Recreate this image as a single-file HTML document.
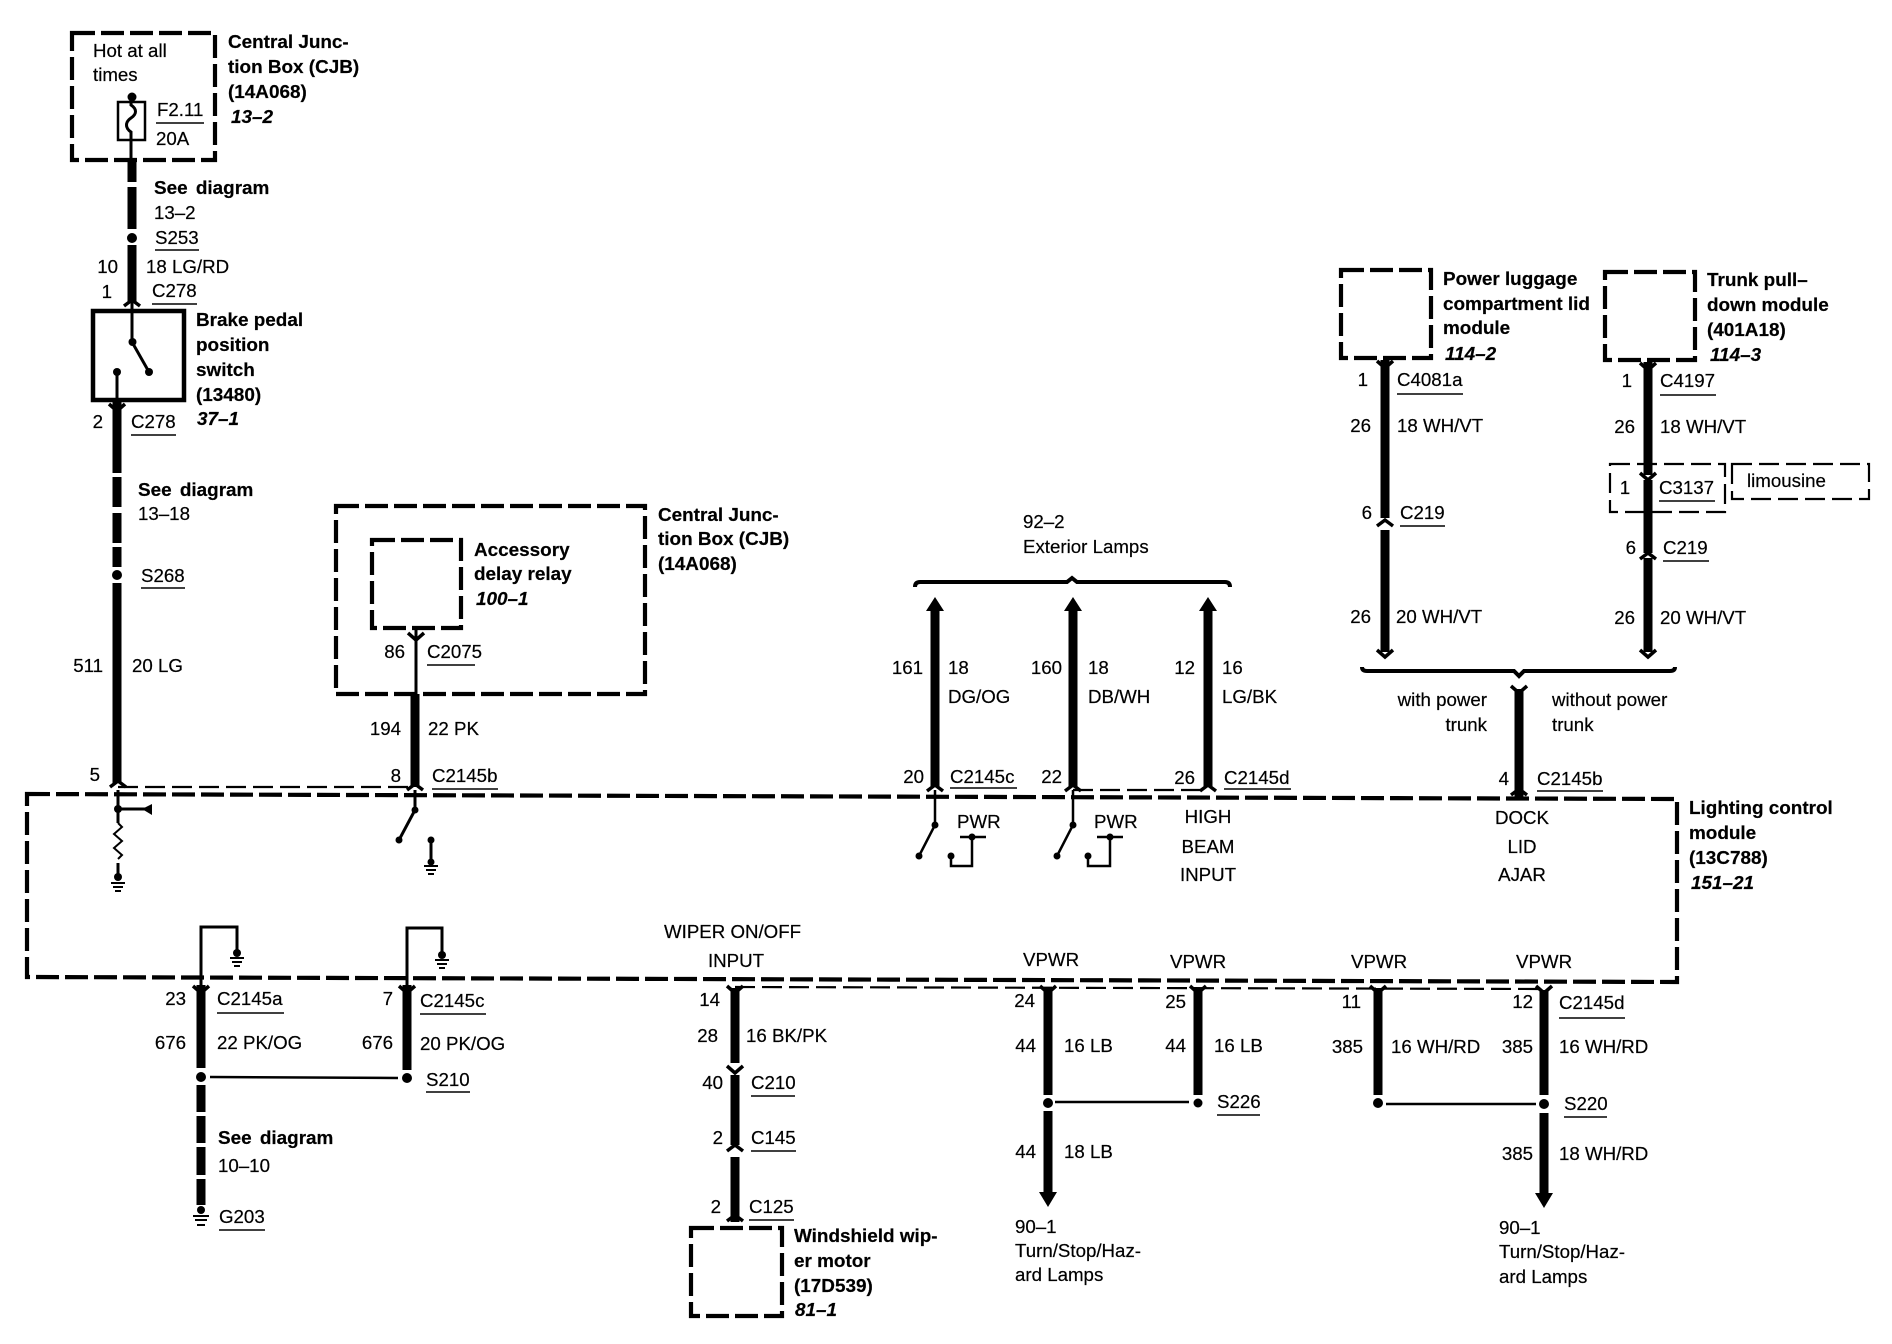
<!DOCTYPE html>
<html><head><meta charset="utf-8"><style>
html,body{margin:0;padding:0;background:#fff}
svg{display:block}
text{font-family:"Liberation Sans",sans-serif;font-size:18.7px;fill:#000;stroke:#000;stroke-width:.2px}
.b{font-weight:bold;font-size:18.9px}.bi{font-weight:bold;font-style:italic;font-size:18.9px}.e{text-anchor:end}.m{text-anchor:middle}.s{word-spacing:3px}
</style></head><body>
<svg xmlns="http://www.w3.org/2000/svg" width="1892" height="1344" viewBox="0 0 1892 1344">
<rect width="1892" height="1344" fill="#fff"/>
<!-- dashed boxes -->
<g fill="none" stroke="#000" stroke-width="4.2" stroke-dasharray="23 6">
<path d="M27 794L1677 799L1677 982L27 977Z"/>
<rect x="72" y="33" width="143" height="127"/>
<rect x="336" y="506" width="309" height="188"/>
<rect x="372" y="540" width="89" height="88"/>
<rect x="1341" y="270" width="90" height="88"/>
<rect x="1605" y="272" width="90" height="88"/>
<rect x="691" y="1228" width="91" height="88"/>
</g>
<g fill="none" stroke="#000" stroke-width="2.2" stroke-dasharray="20 7">
<rect x="1610" y="464" width="115" height="48"/>
<rect x="1732" y="464" width="137" height="35"/>
<path d="M118 787H415"/><path d="M1073 790H1208"/><path d="M735 987L1545 989"/>
</g>
<!-- thick wires -->
<path fill="none" stroke="#000" stroke-width="9" d="M132 160V182M132 187V229M132 245V302M117 400V443M117 443V473M117 477V507M117 513V543M117 547V567M117 583V783M415 694V787M935 606V787M1073 606V787M1208 606V787M1385 360V518M1385 530V652M1648 362V475M1648 480V553M1648 558V652M1519 689V797M201 985V1068M201 1085V1112M201 1116V1143M201 1147V1175M201 1179V1205M407 985V1070M735 988V1063M735 1075V1145M735 1157V1222M1048 988V1095M1048 1111V1194M1198 988V1095M1378 988V1095M1544 990V1095M1544 1113V1195"/>
<!-- chevrons -->
<path fill="none" stroke="#000" stroke-width="3.5" d="M124 306l8-6 8 6M110 787l8-6 8 6M407 790l8-6 8 6M1377 526l8-6 8 6M1640 559l8-6 8 6M727 1151l8-6 8 6M727 1221l8-6 8 6M927 791l8-6 8 6M1065 791l8-6 8 6M1200 791l8-6 8 6M1511 795l8-6 8 6M109 404l8 7 8-7M408 633l8 7 8-7M193 986l8 7 8-7M399 986l8 7 8-7M1377 361l8 7 8-7M1640 363l8 7 8-7M1640 473l8 7 8-7M1377 650l8 7 8-7M1640 650l8 7 8-7M1511 686l8 7 8-7M727 986l8 7 8-7M727 1066l8 7 8-7M1040 986l8 7 8-7M1190 986l8 7 8-7M1370 986l8 7 8-7M1536 986l8 7 8-7"/>
<!-- arrowheads -->
<path d="M935 597l9 14h-18zM1073 597l9 14h-18zM1208 597l9 14h-18zM1048 1207l-9-15h18zM1544 1208l-9-15h18z"/>
<!-- dots -->
<g>
<circle cx="132" cy="97" r="4.5"/><circle cx="132" cy="238" r="5"/><circle cx="132.5" cy="342" r="4"/><circle cx="149" cy="372" r="4"/><circle cx="117" cy="372" r="4"/><circle cx="117" cy="575" r="5"/>
<circle cx="118" cy="809" r="4"/><circle cx="415" cy="810" r="3.5"/><circle cx="399" cy="840" r="3.5"/><circle cx="431" cy="840" r="3.5"/><circle cx="431" cy="862" r="3.5"/><circle cx="118" cy="877" r="4"/>
<circle cx="237" cy="953" r="4"/><circle cx="442" cy="955" r="4"/>
<circle cx="201" cy="1077" r="5"/><circle cx="407" cy="1078" r="5"/><circle cx="201" cy="1210" r="4"/>
<circle cx="935" cy="825" r="3.5"/><circle cx="919" cy="856" r="3.5"/><circle cx="1073" cy="825" r="3.5"/><circle cx="1057" cy="856" r="3.5"/>
<circle cx="972" cy="837" r="3.5"/><circle cx="951" cy="856" r="3.5"/><circle cx="1110" cy="837" r="3.5"/><circle cx="1088" cy="856" r="3.5"/>
<circle cx="1048" cy="1103" r="5"/><circle cx="1198" cy="1103" r="4.5"/><circle cx="1378" cy="1103" r="5"/><circle cx="1544" cy="1104" r="5"/>
</g>
<!-- thin lines -->
<g fill="none" stroke="#000" stroke-width="3">
<rect x="118" y="102" width="27" height="38" stroke-width="2.5"/>
<path d="M131 97V105C137 109 137 114 131 118C125 122 125 128 131 132V160"/>
<rect x="93" y="311" width="91" height="89" stroke-width="4.5"/>
<path d="M132 300V342L149 372M117 372V402"/>
<path d="M118 790V823M118 809H145M118 863V877M415 790V810L399 840M431 840V866"/>
<path d="M118 823l4 4-8 7 8 7-8 7 8 7-4 4" stroke-width="2"/>
<path d="M201 985V927H237V955M407 985V928H442V957"/>
<path d="M935 790V825L919 856M1073 790V825L1057 856M960 837H986M972 837V866H951V856M1097 837H1123M1110 837V866H1088V856" stroke-width="2.5"/>
<path d="M416 628V694"/>
<path d="M210 1077L398 1078M1055 1102H1189M1386 1104H1536" stroke-width="2.5"/>
<path d="M915 587q0-5 5-5H1067L1072 578L1077 582H1225q5 0 5 5M1362 667q0 4 5 4H1514L1519 676L1524 671H1670q5 0 5-4" stroke-width="4"/>
<!-- grounds -->
<path stroke-width="2" d="M111 883h14M113 887h10M115 891h6M424 866h14M426 870h10M428 874h6M230 958h14M232 962h10M234 966h6M435 960h14M437 964h10M439 968h6M193 1216h16M195 1220h12M197 1225h8"/>
<!-- underlines -->
<path stroke-width="1.5" d="M156 123H204M155 250H199M152 304H197M131 435H176M141 588H185M432 789H498M427 665H475M217 1013H284M420 1014H486M426 1092H470M219 1230H265M950 788H1017M1224 789H1291M1397 394H1463M1400 526H1445M1660 395H1716M1659 501H1715M1663 561H1709M1537 791H1603M751 1096H795M751 1151H796M749 1220H794M1217 1115H1260M1559 1018H1625M1564 1117H1607"/>
</g>
<path d="M142 809l10-5v11z"/>
<!-- top left -->
<text x="93" y="57">Hot at all</text><text x="93" y="81">times</text>
<text x="157" y="116">F2.11</text><text x="156" y="145">20A</text>
<text class="b" x="228" y="48">Central Junc-</text><text class="b" x="228" y="73">tion Box (CJB)</text><text class="b" x="228" y="98">(14A068)</text><text class="bi" x="231" y="123">13–2</text>
<text class="b s" x="154" y="194">See diagram</text><text x="154" y="219">13–2</text><text x="155" y="244">S253</text>
<text class="e" x="118" y="273">10</text><text x="146" y="273">18 LG/RD</text>
<text class="e" x="112" y="298">1</text><text x="152" y="297">C278</text>
<text class="b" x="196" y="326">Brake pedal</text><text class="b" x="196" y="351">position</text><text class="b" x="196" y="376">switch</text><text class="b" x="196" y="401">(13480)</text><text class="bi" x="197" y="425">37–1</text>
<text class="e" x="103" y="428">2</text><text x="131" y="428">C278</text>
<text class="b s" x="138" y="496">See diagram</text><text x="138" y="520">13–18</text><text x="141" y="582">S268</text>
<text class="e" x="103" y="672">511</text><text x="132" y="672">20 LG</text>
<text class="e" x="100" y="781">5</text>
<!-- CJB 2 -->
<text class="b" x="658" y="521">Central Junc-</text><text class="b" x="658" y="545">tion Box (CJB)</text><text class="b" x="658" y="570">(14A068)</text>
<text class="b" x="474" y="556">Accessory</text><text class="b" x="474" y="580">delay relay</text><text class="bi" x="476" y="605">100–1</text>
<text class="e" x="405" y="658">86</text><text x="427" y="658">C2075</text>
<text class="e" x="401" y="735">194</text><text x="428" y="735">22 PK</text>
<text class="e" x="401" y="782">8</text><text x="432" y="782">C2145b</text>
<!-- exterior -->
<text x="1023" y="528">92–2</text><text x="1023" y="553">Exterior Lamps</text>
<text class="e" x="923" y="674">161</text><text x="948" y="674">18</text><text x="948" y="703">DG/OG</text>
<text class="e" x="1062" y="674">160</text><text x="1088" y="674">18</text><text x="1088" y="703">DB/WH</text>
<text class="e" x="1195" y="674">12</text><text x="1222" y="674">16</text><text x="1222" y="703">LG/BK</text>
<text class="e" x="924" y="783">20</text><text x="950" y="783">C2145c</text>
<text class="e" x="1062" y="783">22</text><text class="e" x="1195" y="784">26</text><text x="1224" y="784">C2145d</text>
<text x="957" y="828">PWR</text><text x="1094" y="828">PWR</text>
<text class="m" x="1208" y="823">HIGH</text><text class="m" x="1208" y="853">BEAM</text><text class="m" x="1208" y="881">INPUT</text>
<!-- trunk -->
<text class="b" x="1443" y="285">Power luggage</text><text class="b" x="1443" y="310">compartment lid</text><text class="b" x="1443" y="334">module</text><text class="bi" x="1445" y="360">114–2</text>
<text class="b" x="1707" y="286">Trunk pull–</text><text class="b" x="1707" y="311">down module</text><text class="b" x="1707" y="336">(401A18)</text><text class="bi" x="1710" y="361">114–3</text>
<text class="e" x="1368" y="386">1</text><text x="1397" y="386">C4081a</text>
<text class="e" x="1371" y="432">26</text><text x="1397" y="432">18 WH/VT</text>
<text class="e" x="1372" y="519">6</text><text x="1400" y="519">C219</text>
<text class="e" x="1371" y="623">26</text><text x="1396" y="623">20 WH/VT</text>
<text class="e" x="1632" y="387">1</text><text x="1660" y="387">C4197</text>
<text class="e" x="1635" y="433">26</text><text x="1660" y="433">18 WH/VT</text>
<text class="m" x="1625" y="494">1</text><text x="1659" y="494">C3137</text><text x="1747" y="487">limousine</text>
<text class="e" x="1636" y="554">6</text><text x="1663" y="554">C219</text>
<text class="e" x="1635" y="624">26</text><text x="1660" y="624">20 WH/VT</text>
<text class="e" x="1487" y="706">with power</text><text class="e" x="1487" y="731">trunk</text>
<text x="1552" y="706">without power</text><text x="1552" y="731">trunk</text>
<text class="e" x="1509" y="785">4</text><text x="1537" y="785">C2145b</text>
<!-- module -->
<text class="m" x="1522" y="824">DOCK</text><text class="m" x="1522" y="853">LID</text><text class="m" x="1522" y="881">AJAR</text>
<text class="b" x="1689" y="814">Lighting control</text><text class="b" x="1689" y="839">module</text><text class="b" x="1689" y="864">(13C788)</text><text class="bi" x="1691" y="889">151–21</text>
<text x="664" y="938">WIPER ON/OFF</text><text class="m" x="736" y="967">INPUT</text>
<text x="1023" y="966">VPWR</text><text x="1170" y="968">VPWR</text><text x="1351" y="968">VPWR</text><text x="1516" y="968">VPWR</text>
<!-- bottom left -->
<text class="e" x="186" y="1005">23</text><text x="217" y="1005">C2145a</text>
<text class="e" x="393" y="1005">7</text><text x="420" y="1007">C2145c</text>
<text class="e" x="186" y="1049">676</text><text x="217" y="1049">22 PK/OG</text>
<text class="e" x="393" y="1049">676</text><text x="420" y="1050">20 PK/OG</text>
<text x="426" y="1086">S210</text>
<text class="b s" x="218" y="1144">See diagram</text><text x="218" y="1172">10–10</text><text x="219" y="1223">G203</text>
<!-- wiper -->
<text class="e" x="720" y="1006">14</text><text class="e" x="718" y="1042">28</text><text x="746" y="1042">16 BK/PK</text>
<text class="e" x="723" y="1089">40</text><text x="751" y="1089">C210</text>
<text class="e" x="723" y="1144">2</text><text x="751" y="1144">C145</text>
<text class="e" x="721" y="1213">2</text><text x="749" y="1213">C125</text>
<text class="b" x="794" y="1242">Windshield wip-</text><text class="b" x="794" y="1267">er motor</text><text class="b" x="794" y="1292">(17D539)</text><text class="bi" x="795" y="1316">81–1</text>
<!-- vpwr -->
<text class="e" x="1035" y="1007">24</text><text class="e" x="1186" y="1008">25</text>
<text class="e" x="1036" y="1052">44</text><text x="1064" y="1052">16 LB</text>
<text class="e" x="1186" y="1052">44</text><text x="1214" y="1052">16 LB</text>
<text x="1217" y="1108">S226</text>
<text class="e" x="1036" y="1158">44</text><text x="1064" y="1158">18 LB</text>
<text x="1015" y="1233">90–1</text><text x="1015" y="1257">Turn/Stop/Haz-</text><text x="1015" y="1281">ard Lamps</text>
<text class="e" x="1361" y="1008">11</text><text class="e" x="1533" y="1008">12</text><text x="1559" y="1009">C2145d</text>
<text class="e" x="1363" y="1053">385</text><text x="1391" y="1053">16 WH/RD</text>
<text class="e" x="1533" y="1053">385</text><text x="1559" y="1053">16 WH/RD</text>
<text x="1564" y="1110">S220</text>
<text class="e" x="1533" y="1160">385</text><text x="1559" y="1160">18 WH/RD</text>
<text x="1499" y="1234">90–1</text><text x="1499" y="1258">Turn/Stop/Haz-</text><text x="1499" y="1283">ard Lamps</text>
</svg>
</body></html>
